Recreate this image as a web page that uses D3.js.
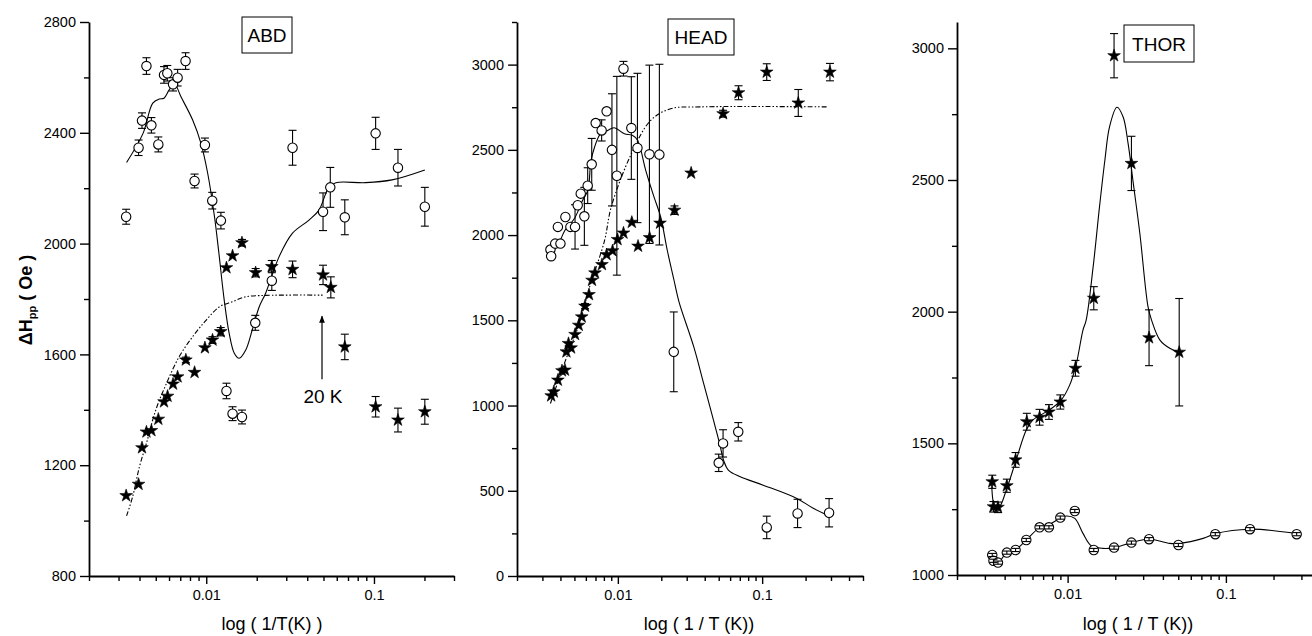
<!DOCTYPE html>
<html>
<head>
<meta charset="utf-8">
<script src="https://cdn.jsdelivr.net/npm/d3@7"></script>
<style>
  body { margin: 0; background: #fff; }
  svg { font-family: "Liberation Sans", Arial, sans-serif; }
</style>
</head>
<body>
<svg id="chart" width="1312" height="636"></svg>
<script>
// ---- data: [1/T, dHpp, error] ----
const abdCircles = [
  [0.00333, 2097, 27], [0.00395, 2346, 28], [0.00414, 2444, 28], [0.0044, 2641, 30],
  [0.00471, 2427, 28], [0.00518, 2358, 27], [0.0056, 2609, 30], [0.00586, 2615, 28],
  [0.00634, 2575, 24], [0.00675, 2599, 30], [0.00753, 2659, 30], [0.00852, 2226, 25],
  [0.00982, 2356, 25], [0.01086, 2155, 30], [0.01223, 2083, 30], [0.0132, 1468, 28],
  [0.01435, 1386, 25], [0.01633, 1374, 25], [0.0196, 1714, 27], [0.0246, 1866, 35],
  [0.0327, 2346, 63], [0.0497, 2115, 68], [0.0549, 2203, 72], [0.067, 2095, 63],
  [0.1023, 2398, 58], [0.139, 2274, 66], [0.201, 2133, 70]
];
const abdStars = [
  [0.00333, 1090, 0], [0.00395, 1131, 0], [0.00414, 1263, 0], [0.0044, 1320, 0],
  [0.00471, 1325, 0], [0.00518, 1366, 0], [0.0056, 1429, 0], [0.00588, 1449, 0],
  [0.00634, 1493, 0], [0.00675, 1519, 0], [0.00756, 1580, 10], [0.00852, 1535, 0],
  [0.00982, 1624, 0], [0.0109, 1652, 12], [0.0122, 1682, 15], [0.0132, 1913, 0],
  [0.01435, 1956, 0], [0.01633, 2003, 12], [0.0197, 1895, 15], [0.0246, 1917, 22],
  [0.0327, 1907, 30], [0.0497, 1887, 35], [0.0553, 1842, 38], [0.067, 1627, 46],
  [0.1023, 1411, 37], [0.139, 1363, 43], [0.201, 1393, 45]
];
const abdFit = [
  [0.00335, 2293], [0.0042, 2398], [0.0048, 2507], [0.00525, 2522], [0.0056, 2525],
  [0.006, 2554], [0.00645, 2578], [0.00707, 2530], [0.0083, 2446], [0.0093, 2362],
  [0.0102, 2254], [0.0112, 2097], [0.0119, 1965], [0.0128, 1796], [0.0137, 1676],
  [0.0147, 1604], [0.0157, 1586], [0.0172, 1616], [0.0188, 1688], [0.0207, 1772],
  [0.0226, 1821], [0.0272, 1953], [0.0326, 2037], [0.041, 2085], [0.047, 2121],
  [0.054, 2205], [0.0593, 2220], [0.0892, 2220], [0.128, 2230], [0.201, 2266]
];
const abdSat = [
  [0.00335, 1017], [0.00364, 1086], [0.004, 1195], [0.0044, 1279], [0.005, 1399],
  [0.0058, 1496], [0.0069, 1592], [0.0083, 1664], [0.01, 1724], [0.012, 1772],
  [0.0143, 1790], [0.0172, 1808], [0.0226, 1813], [0.0494, 1814]
];

const headCircles = [
  [0.00341, 1915, 0], [0.00345, 1876, 0], [0.00368, 1950, 0], [0.0040, 1950, 0],
  [0.00384, 2048, 0], [0.00433, 2106, 0], [0.00469, 2048, 0], [0.00505, 2048, 130],
  [0.00527, 2175, 0], [0.00553, 2243, 0], [0.00586, 2110, 170], [0.00618, 2290, 105],
  [0.00659, 2415, 152], [0.00702, 2657, 0], [0.00772, 2614, 62], [0.00836, 2726, 0],
  [0.0091, 2500, 329], [0.00984, 2348, 583], [0.01094, 2976, 43], [0.0124, 2628, 301],
  [0.01367, 2511, 438], [0.01655, 2474, 523], [0.0194, 2472, 530], [0.0244, 1315, 234],
  [0.050, 664, 51], [0.0536, 778, 80], [0.0683, 846, 54], [0.1076, 285, 66],
  [0.176, 367, 83], [0.291, 371, 83]
];
const headStars = [
  [0.00345, 1057, 0], [0.0036, 1080, 0], [0.00384, 1149, 0], [0.0041, 1204, 0],
  [0.0043, 1208, 0], [0.0044, 1315, 0], [0.00455, 1364, 0], [0.00474, 1338, 0],
  [0.00505, 1417, 0], [0.00536, 1471, 0], [0.00562, 1520, 0], [0.00592, 1583, 15],
  [0.00631, 1651, 0], [0.00662, 1735, 0], [0.00694, 1778, 0], [0.00776, 1827, 0],
  [0.00836, 1885, 0], [0.00919, 1908, 0], [0.00995, 1974, 0], [0.01094, 2012, 0],
  [0.0125, 2075, 0], [0.0138, 1935, 0], [0.0166, 1985, 0], [0.0196, 2070, 0],
  [0.0247, 2146, 25], [0.0322, 2364, 0], [0.0536, 2712, 20], [0.0686, 2835, 41],
  [0.1076, 2956, 49], [0.178, 2775, 79], [0.295, 2956, 51]
];
const headFit = [
  [0.00345, 1892], [0.00384, 1940], [0.0043, 2028], [0.005, 2097], [0.0057, 2204],
  [0.0062, 2263], [0.0065, 2430], [0.0069, 2517], [0.0076, 2595], [0.0085, 2614],
  [0.0094, 2630], [0.0111, 2595], [0.0126, 2585], [0.0137, 2556], [0.0156, 2380],
  [0.0178, 2224], [0.0198, 2106], [0.022, 1911], [0.0245, 1735], [0.0265, 1610],
  [0.0336, 1344], [0.0393, 1130], [0.046, 914], [0.0507, 778], [0.054, 680],
  [0.0583, 621], [0.0705, 582], [0.1017, 533], [0.174, 455], [0.226, 397], [0.291, 352]
];
const headSat = [
  [0.00341, 1012], [0.0043, 1256], [0.0053, 1461], [0.0065, 1720], [0.0069, 1784],
  [0.0081, 1970], [0.009, 2165], [0.0123, 2470], [0.0169, 2673], [0.0232, 2741],
  [0.0373, 2752], [0.286, 2752]
];

const thorStars = [
  [0.00334, 1354, 25], [0.0034, 1259, 20], [0.00363, 1257, 20], [0.00413, 1339, 25],
  [0.00469, 1437, 28], [0.00552, 1582, 32], [0.00665, 1599, 30], [0.00762, 1619, 28],
  [0.00899, 1657, 27], [0.0112, 1785, 30], [0.01463, 2051, 44], [0.01965, 2972, 84],
  [0.0253, 2563, 103], [0.0327, 1901, 106], [0.0507, 1846, 204]
];
const thorCircles = [
  [0.00334, 1076, 6], [0.0034, 1054, 6], [0.00363, 1047, 6], [0.00413, 1085, 6],
  [0.00469, 1095, 6], [0.00548, 1133, 6], [0.00665, 1181, 6], [0.00762, 1181, 6],
  [0.00899, 1218, 6], [0.0111, 1243, 6], [0.01463, 1095, 6], [0.01965, 1104, 6],
  [0.0253, 1123, 6], [0.0327, 1136, 6], [0.0501, 1114, 6], [0.0857, 1155, 6],
  [0.142, 1174, 6], [0.280, 1155, 6]
];
const thorStarFit = [
  [0.00331, 1350], [0.00337, 1285], [0.00346, 1259], [0.0037, 1259], [0.0041, 1323],
  [0.00473, 1437], [0.00548, 1551], [0.00604, 1589], [0.00769, 1627], [0.00912, 1665],
  [0.0103, 1721], [0.0113, 1797], [0.0125, 1930], [0.0131, 1968], [0.0145, 2171],
  [0.0159, 2398], [0.0172, 2576], [0.0184, 2702], [0.0205, 2776], [0.0224, 2740],
  [0.0241, 2639], [0.026, 2487], [0.0286, 2297], [0.0322, 2019], [0.0339, 1968],
  [0.0383, 1892], [0.0442, 1861], [0.0507, 1846]
];
const thorCircleFit = [
  [0.00331, 1076], [0.00345, 1050], [0.0037, 1050], [0.0041, 1085], [0.00473, 1098],
  [0.00548, 1133], [0.00665, 1180], [0.00769, 1193], [0.00899, 1216], [0.0098, 1224],
  [0.0111, 1215], [0.0125, 1158], [0.0141, 1111], [0.0167, 1101], [0.0197, 1104],
  [0.0253, 1123], [0.0327, 1136], [0.0442, 1120], [0.0507, 1120], [0.0718, 1139],
  [0.0857, 1157], [0.142, 1174], [0.280, 1157]
];

const panelNames = ["ABD", "HEAD", "THOR"];
const xLabels = ["log ( 1/T(K) )", "log ( 1 / T (K))", "log ( 1 / T (K))"];

// ---- layout ----
const panels = [
  { name: panelNames[0], left: 89, right: 454, top: 22, bottom: 576,
    xdom: [0.002, 0.3], ydom: [800, 2800], major: 400, minor: 200,
    xlabel: xLabels[0], labelX: 272, box: [242, 17, 50, 36],
    points: [{ data: abdCircles, shape: "circle" }, { data: abdStars, shape: "star" }],
    lines: [{ data: abdFit, dash: null }, { data: abdSat, dash: "5,2,1.5,2,1.5,2" }] },
  { name: panelNames[1], left: 517, right: 863, top: 22, bottom: 576,
    xdom: [0.002, 0.5], ydom: [0, 3250], major: 500, minor: 250,
    xlabel: xLabels[1], labelX: 699, box: [668, 19, 66, 36],
    points: [{ data: headCircles, shape: "circle" }, { data: headStars, shape: "star" }],
    lines: [{ data: headFit, dash: null }, { data: headSat, dash: "5,2,1.5,2,1.5,2" }] },
  { name: panelNames[2], left: 957, right: 1312, top: 22, bottom: 575,
    xdom: [0.002, 0.35], ydom: [1000, 3100], major: 500, minor: 250,
    xlabel: xLabels[2], labelX: 1138, box: [1124, 25, 70, 37],
    points: [{ data: thorStars, shape: "star" }, { data: thorCircles, shape: "circle", barsOnTop: true }],
    lines: [{ data: thorStarFit, dash: null }, { data: thorCircleFit, dash: null }] }
];

const svg = d3.select("#chart");
const star = d3.symbol(d3.symbolStar, 50);

panels.forEach(p => {
  const x = d3.scaleLog().domain(p.xdom).range([p.left, p.right]);
  const y = d3.scaleLinear().domain(p.ydom).range([p.bottom, p.top]);
  const g = svg.append("g");

  // fitted curves
  const line = d3.line().x(d => x(d[0])).y(d => y(d[1])).curve(d3.curveCatmullRom.alpha(0.5));
  p.lines.forEach(l => {
    g.append("path")
      .attr("d", line(l.data))
      .attr("fill", "none")
      .attr("stroke", "#000")
      .attr("stroke-width", 1.1)
      .attr("stroke-dasharray", l.dash);
  });

  function drawBars(data) {
    const bars = g.append("g").attr("stroke", "#000").attr("stroke-width", 1.1);
    data.filter(d => d[2] > 0).forEach(d => {
      const cx = x(d[0]), y0 = y(d[1] - d[2]), y1 = y(d[1] + d[2]);
      bars.append("line").attr("x1", cx).attr("x2", cx).attr("y1", y0).attr("y2", y1);
      bars.append("line").attr("x1", cx - 4).attr("x2", cx + 4).attr("y1", y0).attr("y2", y0);
      bars.append("line").attr("x1", cx - 4).attr("x2", cx + 4).attr("y1", y1).attr("y2", y1);
    });
  }

  p.points.forEach(s => {
    if (!s.barsOnTop) drawBars(s.data);
    if (s.shape === "circle") {
      g.append("g").selectAll("circle")
        .data(s.data)
        .join("circle")
        .attr("cx", d => x(d[0]))
        .attr("cy", d => y(d[1]))
        .attr("r", 4.7)
        .attr("fill", "#fff")
        .attr("stroke", "#000")
        .attr("stroke-width", 1.1);
    } else {
      g.append("g").selectAll("path")
        .data(s.data)
        .join("path")
        .attr("d", star)
        .attr("transform", d => `translate(${x(d[0])},${y(d[1])})`)
        .attr("fill", "#000")
        .attr("stroke", "#000")
        .attr("stroke-width", 0.6);
    }
    if (s.barsOnTop) drawBars(s.data);
  });

  // y axis
  const yMajor = d3.range(p.ydom[0], p.ydom[1] + 1, p.major);
  const yMinor = d3.range(p.ydom[0], p.ydom[1] + 1, p.minor).filter(v => !yMajor.includes(v));
  g.append("g").attr("transform", `translate(${p.left},0)`)
    .call(d3.axisLeft(y).tickValues(yMajor).tickSize(9).tickPadding(4)
      .tickFormat(d3.format("d")).tickSizeOuter(0));
  g.append("g").attr("transform", `translate(${p.left},0)`)
    .call(d3.axisLeft(y).tickValues(yMinor).tickSize(5).tickFormat("").tickSizeOuter(0))
    .select(".domain").remove();

  // x axis
  const allX = x.ticks().filter(v => v >= p.xdom[0] * 0.999 && v <= p.xdom[1] * 1.001);
  const isMajor = v => Math.abs(Math.log10(v) - Math.round(Math.log10(v))) < 1e-6;
  g.append("g").attr("transform", `translate(0,${p.bottom})`)
    .call(d3.axisBottom(x).tickValues(allX.filter(isMajor)).tickSize(8).tickPadding(6)
      .tickFormat(d => d === 0.01 ? "0.01" : "0.1").tickSizeOuter(0));
  g.append("g").attr("transform", `translate(0,${p.bottom})`)
    .call(d3.axisBottom(x).tickValues(allX.filter(v => !isMajor(v))).tickSize(5).tickFormat("").tickSizeOuter(0))
    .select(".domain").remove();

  g.selectAll(".domain").attr("stroke-width", 1.8);
  g.selectAll(".tick line").attr("stroke-width", 1.4);
  g.selectAll(".tick text").attr("font-size", 14.5).attr("fill", "#000")
    .attr("font-family", "Liberation Sans, Arial, sans-serif");

  // x label
  g.append("text")
    .attr("x", p.labelX).attr("y", 630)
    .attr("text-anchor", "middle")
    .attr("font-size", 18)
    .text(p.xlabel);

  // title box
  g.append("rect")
    .attr("x", p.box[0]).attr("y", p.box[1])
    .attr("width", p.box[2]).attr("height", p.box[3])
    .attr("fill", "#fff").attr("stroke", "#000").attr("stroke-width", 1);
  g.append("text")
    .attr("x", p.box[0] + p.box[2] / 2).attr("y", p.box[1] + p.box[3] / 2 + 7)
    .attr("text-anchor", "middle")
    .attr("font-size", 19)
    .text(p.name);

  p.x = x; p.y = y;
});

// 20 K annotation on ABD
const abd = panels[0];
svg.append("defs").append("marker")
  .attr("id", "head").attr("viewBox", "0 0 10 10").attr("refX", 9).attr("refY", 5)
  .attr("markerWidth", 6).attr("markerHeight", 8).attr("orient", "auto")
  .append("path").attr("d", "M0,1 L10,5 L0,9 Z").attr("fill", "#000");
svg.append("line")
  .attr("x1", abd.x(0.049)).attr("x2", abd.x(0.049))
  .attr("y1", abd.y(1510)).attr("y2", abd.y(1738))
  .attr("stroke", "#000").attr("stroke-width", 1.2)
  .attr("marker-end", "url(#head)");
svg.append("text")
  .attr("x", abd.x(0.049) + 1).attr("y", abd.y(1425))
  .attr("text-anchor", "middle").attr("font-size", 19)
  .text("20 K");

// y axis title
const yt = svg.append("text")
  .attr("transform", "translate(32,300) rotate(-90)")
  .attr("text-anchor", "middle")
  .attr("font-size", 18).attr("font-weight", "bold");
yt.append("tspan").text("ΔH");
yt.append("tspan").attr("font-size", 11).attr("dy", 4).text("pp");
yt.append("tspan").attr("dy", -4).text(" ( Oe )");
</script>
</body>
</html>
